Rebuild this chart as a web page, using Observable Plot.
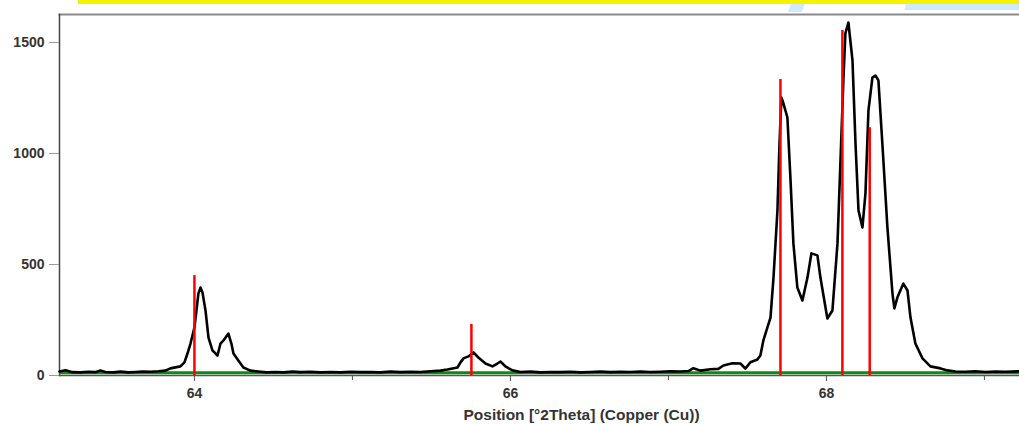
<!DOCTYPE html>
<html>
<head>
<meta charset="utf-8">
<script src="https://cdn.jsdelivr.net/npm/d3@7"></script>
<script src="https://cdn.jsdelivr.net/npm/@observablehq/plot@0.6"></script>
<style>
  html, body { margin: 0; padding: 0; background: #fff; }
  #wrap { position: relative; width: 1019px; height: 424px; overflow: hidden; font-family: "Liberation Sans", Arial, sans-serif; }
  #chart { position: absolute; left: 0; top: 0; }
  .deco { position: absolute; z-index: 2; }
</style>
</head>
<body>
<div id="wrap">
  <div id="chart"></div>
  <div class="deco" style="left:790px;top:0;width:14px;height:12px;background:#cfeafd;transform:skewX(-20deg);"></div>
  <div class="deco" style="left:906px;top:0;width:120px;height:10px;background:#cfeafd;transform:skewX(-20deg);"></div>
  <div class="deco" style="left:78px;top:0;width:941px;height:4px;background:#f4f400;"></div>
</div>
<script>
// Measured pattern: 2Theta position (degrees) and intensity (counts)
const twoTheta = [63.146,63.184,63.228,63.278,63.329,63.373,63.405,63.437,63.487,63.532,63.582,63.627,63.671,63.722,63.772,63.816,63.848,63.911,63.937,63.956,63.975,64.000,64.013,64.025,64.038,64.051,64.070,64.089,64.114,64.146,64.165,64.184,64.215,64.234,64.247,64.278,64.310,64.354,64.405,64.456,64.513,64.563,64.620,64.671,64.734,64.797,64.861,64.924,64.987,65.051,65.114,65.177,65.241,65.304,65.367,65.430,65.494,65.557,65.601,65.665,65.684,65.703,65.734,65.766,65.797,65.842,65.886,65.918,65.937,65.968,66.013,66.063,66.127,66.190,66.253,66.316,66.380,66.443,66.506,66.570,66.633,66.696,66.759,66.823,66.886,66.949,67.013,67.076,67.127,67.158,67.203,67.266,67.316,67.348,67.405,67.456,67.487,67.519,67.563,67.582,67.601,67.627,67.646,67.665,67.690,67.703,67.715,67.728,67.753,67.772,67.791,67.816,67.848,67.880,67.905,67.943,67.962,68.006,68.038,68.070,68.089,68.108,68.120,68.139,68.165,68.184,68.203,68.228,68.247,68.266,68.291,68.310,68.329,68.354,68.386,68.418,68.430,68.449,68.487,68.513,68.532,68.563,68.608,68.658,68.722,68.766,68.816,68.880,68.943,69.006,69.070,69.133,69.222];
const counts   = [18,24,15,14,17,15,22,16,14,18,14,16,18,17,19,22,32,41,59,99,144,216,293,369,396,374,293,171,113,90,144,158,189,144,99,68,36,22,18,14,16,14,18,15,17,14,16,14,17,15,16,14,18,15,17,16,19,22,27,36,59,77,86,104,81,54,41,54,63,41,23,16,18,14,16,15,17,14,16,18,15,17,16,18,16,17,19,18,20,33,22,28,30,45,55,54,31,60,72,90,158,218,261,441,743,1045,1252,1225,1162,892,595,396,338,441,550,541,441,257,293,595,968,1342,1541,1590,1419,1045,743,667,820,1194,1342,1351,1329,1045,667,369,302,351,414,383,261,144,77,41,32,23,18,17,19,16,18,17,19];

// Reference pattern sticks
const refPos = [64.000, 65.753, 67.709, 68.101, 68.274];
const refInt = [450, 230, 1333, 1554, 1116];

// Background line level
const backgroundLevel = [12];

// Axis ticks
const yTicks = [0, 500, 1000, 1500];
const xMajor = [64, 66, 68];
const xMinor = [65, 67, 69];
const xLabel = "Position [°2Theta] (Copper (Cu))";

const pattern = twoTheta.map((t, i) => ({t, c: counts[i]}));
const sticks = refPos.map((t, i) => ({t, c: refInt[i]}));

const chart = Plot.plot({
  width: 1019,
  height: 424,
  marginLeft: 59,
  marginRight: 0,
  marginTop: 14,
  marginBottom: 49,
  style: {fontFamily: "'Liberation Sans', Arial, sans-serif", color: "#333", background: "transparent"},
  x: {domain: [63.146, 69.222]},
  y: {domain: [0, 1626]},
  marks: [
    Plot.frame({anchor: "top", stroke: "#8a8a8a", strokeWidth: 2}),
    Plot.frame({anchor: "left", stroke: "#444", strokeWidth: 1.5}),
    Plot.ruleY([0], {stroke: "#555", strokeWidth: 1.5}),
    Plot.axisY({ticks: yTicks, tickSize: 10, tickPadding: 5, stroke: "#999", fill: "#333", fontWeight: "bold", fontSize: 14, label: null, tickFormat: d => String(d)}),
    Plot.axisX({ticks: xMajor, tickSize: 6, tickPadding: 7, stroke: "#555", fill: "#333", fontWeight: "bold", fontSize: 14, label: null, tickFormat: d => String(d)}),
    Plot.axisX({ticks: xMinor, tickSize: 5, stroke: "#555", tickFormat: () => "", label: null}),
    Plot.ruleY(backgroundLevel, {stroke: "#118a11", strokeWidth: 3}),
    Plot.line(pattern, {x: "t", y: "c", stroke: "#000", strokeWidth: 2.6, strokeLinejoin: "round"}),
    Plot.ruleX(sticks, {x: "t", y1: 0, y2: "c", stroke: "#ff0000", strokeWidth: 2.5}),
    Plot.text([xLabel], {frameAnchor: "bottom", dx: 42, dy: 44, fontWeight: "bold", fontSize: 15.5, fill: "#333"})
  ]
});
document.getElementById("chart").appendChild(chart);
</script>
</body>
</html>
